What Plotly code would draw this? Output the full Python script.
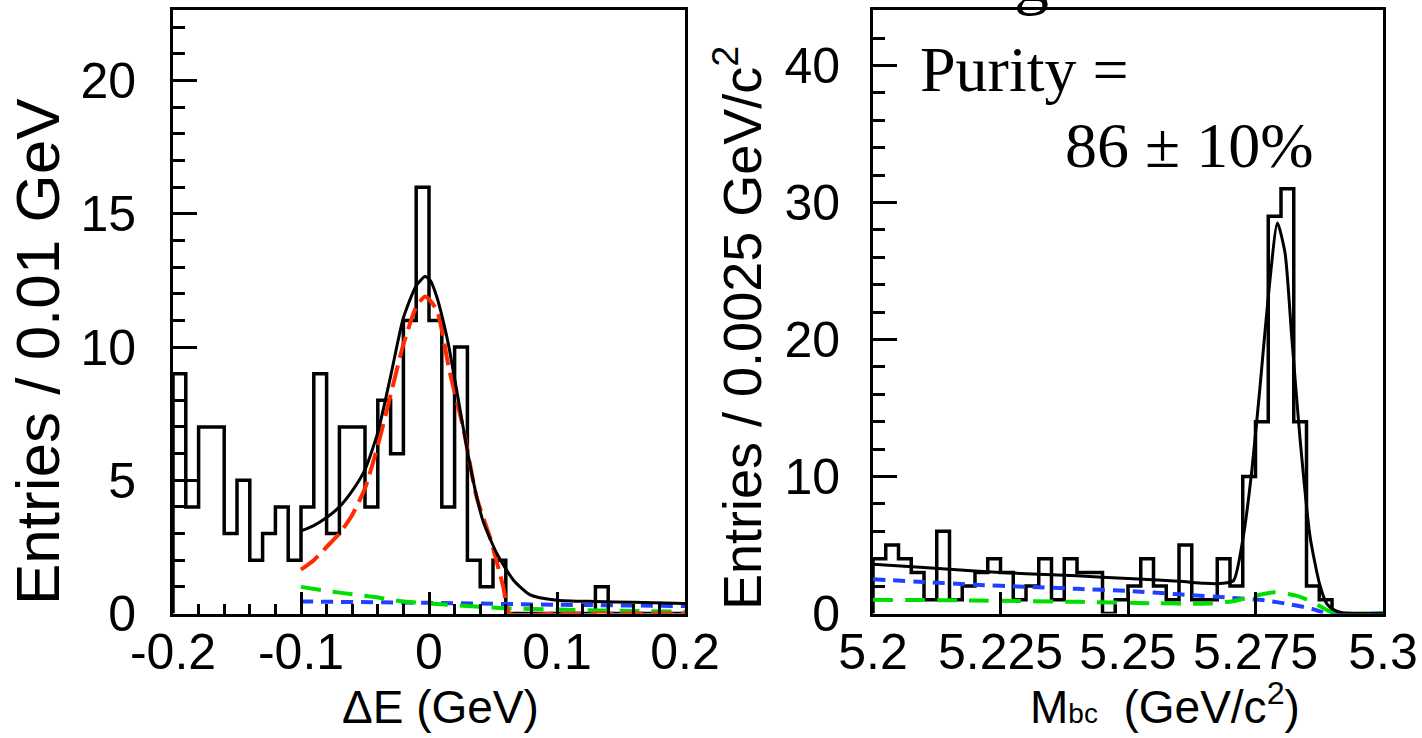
import numpy as np
import plotly.graph_objects as go

W, H = 1422, 738

# ---------------- data: left panel (Delta E) ----------------
de_edges = np.linspace(-0.2, 0.2, 41)
de_counts = [9, 4, 7, 7, 3, 5, 2, 3, 4, 2,
             4, 9, 3, 7, 7, 4, 8, 6, 11, 16,
             11, 4, 10, 2, 1, 2, 0, 0, 0, 0,
             0, 0, 0, 1, 0, 0, 0, 0, 0, 0]

de_tot_x = [-0.100, -0.090, -0.080, -0.070, -0.060, -0.050, -0.040, -0.030, -0.020, -0.010,
            -0.003, 0.001, 0.006, 0.011, 0.016, 0.027, 0.034, 0.042, 0.053, 0.066,
            0.079, 0.100, 0.130, 0.160, 0.200]
de_tot_y = [3.1, 3.3, 3.6, 4.0, 4.6, 5.4, 6.8, 8.9, 11.1, 12.3,
            12.65, 12.5, 11.9, 11.0, 9.9, 6.9, 5.1, 3.5, 2.25, 1.25,
            0.7, 0.5, 0.45, 0.42, 0.38]

de_sig_x = [-0.100, -0.090, -0.080, -0.070, -0.060, -0.050, -0.040, -0.030, -0.020, -0.010,
            -0.003, 0.006, 0.016, 0.027, 0.037, 0.048, 0.058, 0.063, 0.100, 0.150, 0.200]
de_sig_y = [1.65, 2.0, 2.5, 3.0, 3.7, 4.7, 6.3, 8.2, 10.1, 11.5,
            11.9, 11.4, 9.1, 6.9, 4.4, 2.8, 1.0, 0.0, 0.0, 0.0, 0.0]

de_grn_x = [-0.100, -0.080, -0.060, -0.040, -0.020, 0.000, 0.030, 0.060, 0.100, 0.150, 0.200]
de_grn_y = [1.0, 0.85, 0.72, 0.6, 0.45, 0.38, 0.28, 0.2, 0.15, 0.1, 0.07]

de_blu_x = [-0.100, 0.000, 0.100, 0.200]
de_blu_y = [0.45, 0.4, 0.33, 0.28]

# ---------------- data: right panel (Mbc) ----------------
mbc_edges = np.linspace(5.2, 5.3, 41)
mbc_counts = [4, 5, 4, 3, 1, 6, 1, 2, 3, 4,
              3, 1, 2, 4, 1, 4, 3, 3, 0, 1,
              2, 4, 2, 1, 5, 1, 1, 4, 2, 10,
              14, 29, 31, 14, 2, 1, 0, 0, 0, 0]

mbc_tot_x = [5.200, 5.210, 5.220, 5.230, 5.240, 5.250, 5.260, 5.265, 5.2685, 5.2707,
             5.2726, 5.2743, 5.2759, 5.2775, 5.2793, 5.2808, 5.2821, 5.2837, 5.2857, 5.2876,
             5.2890, 5.2902, 5.2920, 5.3000]
mbc_tot_y = [3.6, 3.35, 3.1, 2.9, 2.75, 2.55, 2.35, 2.2, 2.2, 2.4,
             5.6, 10.5, 16.6, 23.1, 28.5, 26.3, 20.2, 12.9, 5.6, 2.1,
             0.7, 0.3, 0.05, 0.0]

mbc_blu_x = [5.200, 5.210, 5.220, 5.230, 5.240, 5.250, 5.260, 5.270, 5.277, 5.282, 5.286, 5.289, 5.300]
mbc_blu_y = [2.5, 2.3, 2.1, 1.95, 1.8, 1.65, 1.4, 1.15, 0.95, 0.65, 0.35, 0.0, 0.0]

mbc_grn_x = [5.200, 5.220, 5.240, 5.255, 5.265, 5.2706, 5.275, 5.2787, 5.283, 5.2864, 5.289, 5.2905, 5.300]
mbc_grn_y = [1.0, 0.95, 0.85, 0.75, 0.72, 0.9, 1.3, 1.55, 1.3, 0.8, 0.25, 0.0, 0.0]

de_ticks = [-0.2, -0.1, 0, 0.1, 0.2]
de_ticktext = ["-0.2", "-0.1", "0", "0.1", "0.2"]
mbc_ticks = [5.2, 5.225, 5.25, 5.275, 5.3]
mbc_ticktext = ["5.2", "5.225", "5.25", "5.275", "5.3"]


def step_xy(edges, counts):
    xs = [edges[0]] + list(edges[:-1]) + [edges[-1]]
    ys = [0] + list(counts) + [0]
    return xs, ys


fig = go.Figure()

# left panel
hx, hy = step_xy(de_edges, de_counts)
fig.add_trace(go.Scatter(x=hx, y=hy, mode="lines", line=dict(color="black", width=3.5, shape="hv"),
                         xaxis="x", yaxis="y", hoverinfo="skip"))
fig.add_trace(go.Scatter(x=de_blu_x, y=de_blu_y, mode="lines",
                         line=dict(color="#2040ff", width=4, dash="12px,8px", shape="spline"),
                         xaxis="x", yaxis="y"))
fig.add_trace(go.Scatter(x=de_grn_x, y=de_grn_y, mode="lines",
                         line=dict(color="#00dd00", width=4, dash="20px,12px", shape="spline"),
                         xaxis="x", yaxis="y"))
fig.add_trace(go.Scatter(x=de_sig_x, y=de_sig_y, mode="lines",
                         line=dict(color="#ff2a00", width=4, dash="22px,8px", shape="spline", smoothing=0.6),
                         xaxis="x", yaxis="y"))
fig.add_trace(go.Scatter(x=de_tot_x, y=de_tot_y, mode="lines",
                         line=dict(color="black", width=3, shape="spline", smoothing=0.6),
                         xaxis="x", yaxis="y"))

# right panel
hx2, hy2 = step_xy(mbc_edges, mbc_counts)
fig.add_trace(go.Scatter(x=hx2, y=hy2, mode="lines", line=dict(color="black", width=3.5, shape="hv"),
                         xaxis="x2", yaxis="y2", hoverinfo="skip"))
fig.add_trace(go.Scatter(x=mbc_blu_x, y=mbc_blu_y, mode="lines",
                         line=dict(color="#2040ff", width=4, dash="12px,8px", shape="spline", smoothing=0.6),
                         xaxis="x2", yaxis="y2"))
fig.add_trace(go.Scatter(x=mbc_grn_x, y=mbc_grn_y, mode="lines",
                         line=dict(color="#00dd00", width=4, dash="20px,12px", shape="spline", smoothing=0.6),
                         xaxis="x2", yaxis="y2"))
fig.add_trace(go.Scatter(x=mbc_tot_x, y=mbc_tot_y, mode="lines",
                         line=dict(color="black", width=3, shape="spline", smoothing=0.6),
                         xaxis="x2", yaxis="y2"))

sans = "Liberation Sans, Arial, sans-serif"
serif = "Liberation Serif, Times New Roman, serif"

tickfont = dict(family=sans, size=50, color="black")
ybot = 1 - 613.5 / H
ytop = 1 - 10 / H

common = dict(showline=True, linecolor="black", linewidth=3, mirror=True,
              ticks="inside", tickcolor="black", tickwidth=3, automargin=False,
              showgrid=False, zeroline=False, tickfont=tickfont, fixedrange=True)

fig.update_layout(
    width=W, height=H, margin=dict(l=0, r=0, t=0, b=0, pad=0, autoexpand=False), autosize=False,
    paper_bgcolor="white", plot_bgcolor="white", showlegend=False,
    xaxis=dict(domain=[173 / W, 685 / W], range=[-0.2, 0.2], anchor="y",
               tickvals=de_ticks, ticktext=de_ticktext, ticklen=22, ticklabelstandoff=-8,
               minor=dict(dtick=0.02, ticklen=10, ticks="inside", tickwidth=3, tickcolor="black"),
               **common),
    yaxis=dict(domain=[ybot, ytop], range=[0, 22.65], anchor="x",
               tickvals=[0, 5, 10, 15, 20], ticklen=24, ticklabelstandoff=24,
               minor=dict(dtick=1, ticklen=12, ticks="inside", tickwidth=3, tickcolor="black"),
               **common),
    xaxis2=dict(domain=[873 / W, 1383 / W], range=[5.2, 5.3], anchor="y2",
                tickvals=mbc_ticks, ticktext=mbc_ticktext, ticklen=22, ticklabelstandoff=-8,
                **common),
    yaxis2=dict(domain=[ybot, ytop], range=[0, 44.05], anchor="x2",
                tickvals=[0, 10, 20, 30, 40], ticklen=24, ticklabelstandoff=20,
                minor=dict(dtick=2, ticklen=12, ticks="inside", tickwidth=3, tickcolor="black"),
                **common),
)


def px(x):
    return x / W


def py(y):
    return 1 - y / H


ann = [
    dict(text="Entries / 0.01 GeV", x=px(38), y=py(352), textangle=-90, font=dict(family=sans, size=62)),
    dict(text="Entries / 0.0025 GeV/c<sup>2</sup>", x=px(738), y=py(328), textangle=-90,
         font=dict(family=sans, size=54)),
    dict(text="ΔE (GeV)", x=px(440), y=py(707), font=dict(family=sans, size=46)),
    dict(text="M<span style='font-size:28px'>bc</span>  (GeV/c<sup>2</sup>)", x=px(1165), y=py(704),
         font=dict(family=sans, size=46)),
    dict(text="Purity =", x=px(918), y=py(69), xanchor="left", font=dict(family=serif, size=64)),
    dict(text="86 ± 10%", x=px(1063), y=py(146), xanchor="left", font=dict(family=serif, size=64)),
    dict(text="g", x=px(1012), y=py(-22), xanchor="left", font=dict(family=serif, size=70)),
]
for a in ann:
    a.setdefault("xanchor", "center")
    a.update(xref="paper", yref="paper", showarrow=False, yanchor="middle")
    a["font"]["color"] = "black"
fig.update_layout(annotations=ann)

fig.write_html("out.html")
